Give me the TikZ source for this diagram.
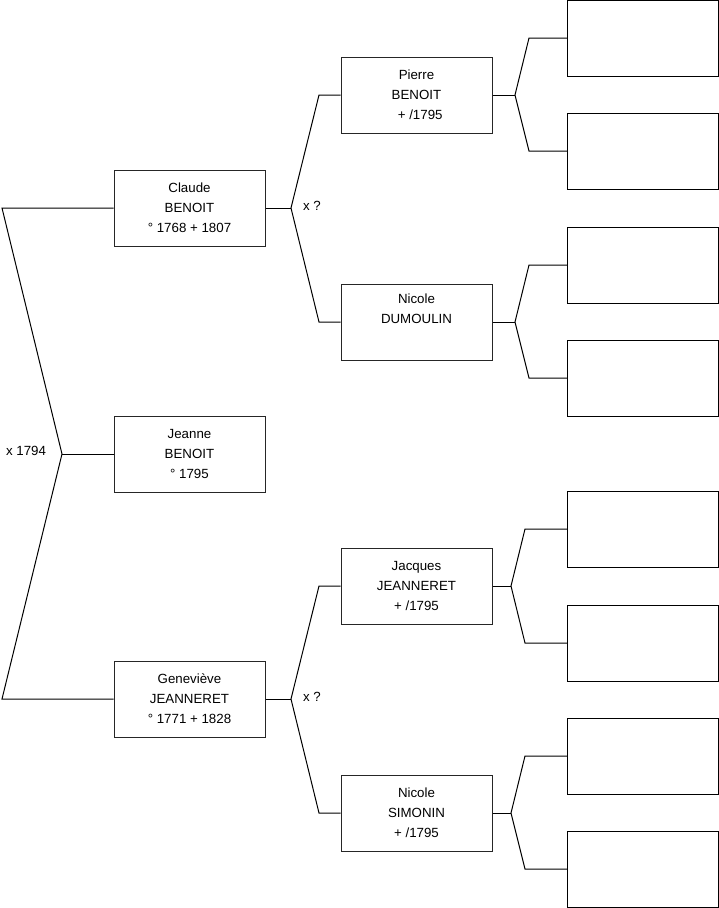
\documentclass[tikz,border=0pt]{standalone}
\usepackage{fontspec}
\setmainfont{Liberation Sans}
\begin{document}
\begin{tikzpicture}[x=1pt,y=-1pt,
  box/.style={draw=black!85, line width=1pt, minimum width=151pt, minimum height=76pt, inner sep=0pt,
    align=center, font=\fontsize{13.3}{20}\selectfont},
  emptybox/.style={draw=black, line width=1pt, minimum width=151pt, minimum height=76pt, inner sep=0pt},
  conn/.style={draw=black, line width=1pt},
  lbl/.style={font=\fontsize{13.3}{15}\selectfont, inner sep=0pt}]
\useasboundingbox (0,0) rectangle (719,908);
% generation 1
\node[box] (jeanne) at (189.5,454) {Jeanne\\BENOIT\\° 1795};
% generation 2
\node[box] (claude) at (189.5,208) {Claude\\BENOIT\\° 1768 + 1807};
\node[box] (genevieve) at (189.5,699) {Geneviève\\JEANNERET\\° 1771 + 1828};
% generation 3
\node[box] (pierre) at (416.5,95) {Pierre\\BENOIT\\\ \ + /1795};
\node[box] (nicoled) at (416.5,322) {Nicole\\DUMOULIN\\\strut};
\node[box] (jacques) at (416.5,586) {Jacques\\JEANNERET\\+ /1795};
\node[box] (nicoles) at (416.5,813) {Nicole\\SIMONIN\\+ /1795};
% generation 4
\node[emptybox] (r1) at (643,38) {};
\node[emptybox] (r2) at (643,151) {};
\node[emptybox] (r3) at (643,265) {};
\node[emptybox] (r4) at (643,378) {};
\node[emptybox] (r5) at (643,529) {};
\node[emptybox] (r6) at (643,643) {};
\node[emptybox] (r7) at (643,756) {};
\node[emptybox] (r8) at (643,869) {};
% fork coordinates
\coordinate (f0) at (62,454);
\coordinate (f0a) at (2,208);
\coordinate (f0b) at (2,699);
\coordinate (fc) at (291,208);
\coordinate (fca) at (319,95);
\coordinate (fcb) at (319,322);
\coordinate (fg) at (291,699);
\coordinate (fga) at (319,586);
\coordinate (fgb) at (319,813);
\coordinate (fp) at (515,95);
\coordinate (fpa) at (529,38);
\coordinate (fpb) at (529,151);
\coordinate (fd) at (515,322);
\coordinate (fda) at (529,265);
\coordinate (fdb) at (529,378);
\coordinate (fj) at (511,586);
\coordinate (fja) at (525,529);
\coordinate (fjb) at (525,643);
\coordinate (fs) at (511,813);
\coordinate (fsa) at (525,756);
\coordinate (fsb) at (525,869);
% connectors
\draw[conn] (jeanne.west) -- (f0);
\draw[conn] (claude.west) -- (f0a) -- (f0) -- (f0b) -- (genevieve.west);
\draw[conn] (claude.east) -- (fc);
\draw[conn] (pierre.west) -- (fca) -- (fc) -- (fcb) -- (nicoled.west);
\draw[conn] (genevieve.east) -- (fg);
\draw[conn] (jacques.west) -- (fga) -- (fg) -- (fgb) -- (nicoles.west);
\draw[conn] (pierre.east) -- (fp);
\draw[conn] (r1.west) -- (fpa) -- (fp) -- (fpb) -- (r2.west);
\draw[conn] (nicoled.east) -- (fd);
\draw[conn] (r3.west) -- (fda) -- (fd) -- (fdb) -- (r4.west);
\draw[conn] (jacques.east) -- (fj);
\draw[conn] (r5.west) -- (fja) -- (fj) -- (fjb) -- (r6.west);
\draw[conn] (nicoles.east) -- (fs);
\draw[conn] (r7.west) -- (fsa) -- (fs) -- (fsb) -- (r8.west);
% marriage labels
\node[lbl] (m0) at (26,451) {x 1794};
\node[lbl] (m1) at (312,206) {x ?};
\node[lbl] (m2) at (312,697) {x ?};
\end{tikzpicture}
\end{document}
